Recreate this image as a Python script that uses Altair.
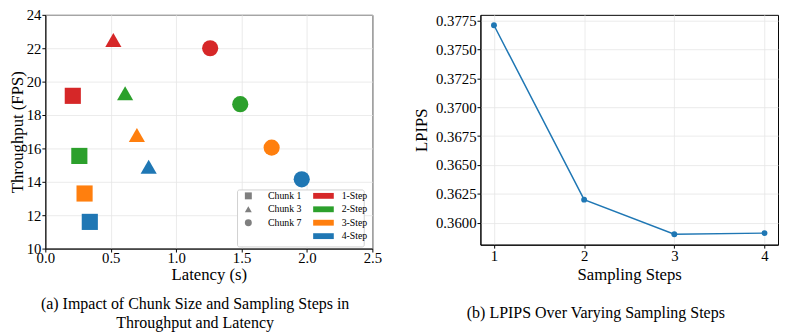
import altair as alt
import pandas as pd

FONT = "Liberation Serif"

# ---- Panel (a) data ----
latency = [0.21, 0.26, 0.30, 0.34, 0.52, 0.61, 0.70, 0.79, 1.26, 1.49, 1.73, 1.96]
throughput = [19.15, 15.55, 13.3, 11.6, 22.5, 19.3, 16.8, 14.9, 22.0, 18.65, 16.05, 14.15]
chunk = ["Chunk 1", "Chunk 1", "Chunk 1", "Chunk 1",
         "Chunk 3", "Chunk 3", "Chunk 3", "Chunk 3",
         "Chunk 7", "Chunk 7", "Chunk 7", "Chunk 7"]
step = ["1-Step", "2-Step", "3-Step", "4-Step",
        "1-Step", "2-Step", "3-Step", "4-Step",
        "1-Step", "2-Step", "3-Step", "4-Step"]
chunk_names = ["Chunk 1", "Chunk 3", "Chunk 7"]
chunk_shapes = ["square", "triangle-up", "circle"]
step_names = ["1-Step", "2-Step", "3-Step", "4-Step"]
step_colors = ["#d62728", "#2ca02c", "#ff7f0e", "#1f77b4"]
x_ticks_a = [0.0, 0.5, 1.0, 1.5, 2.0, 2.5]
y_ticks_a = [10, 12, 14, 16, 18, 20, 22, 24]

# ---- Panel (b) data ----
sampling_steps = [1, 2, 3, 4]
lpips = [0.3771, 0.3620, 0.3590, 0.3591]
y_ticks_b = [0.3600, 0.3625, 0.3650, 0.3675, 0.3700, 0.3725, 0.3750, 0.3775]

df_a = pd.DataFrame({"latency": latency, "throughput": throughput,
                     "chunk": chunk, "step": step})
df_b = pd.DataFrame({"steps": sampling_steps, "lpips": lpips})

frame = alt.Chart(pd.DataFrame({"k": [0]})).mark_rect(
    fill="white", stroke="#d0d0d0", strokeWidth=1, cornerRadius=2
).encode(
    x=alt.value(195.7), x2=alt.value(324.7), y=alt.value(178.3), y2=alt.value(236.3)
)

scatter = alt.Chart(df_a).mark_point(filled=True, size=270, opacity=1).encode(
    x=alt.X("latency:Q",
            scale=alt.Scale(domain=[0, 2.5], nice=False, zero=False),
            axis=alt.Axis(values=x_ticks_a, format=".1f", title="Latency (s)",
                          labelPadding=-1, titlePadding=0.5)),
    y=alt.Y("throughput:Q",
            scale=alt.Scale(domain=[10, 24], nice=False, zero=False),
            axis=alt.Axis(values=y_ticks_a, format="d", title="Throughput (FPS)",
                          titlePadding=-0.5)),
    shape=alt.Shape("chunk:N",
                    scale=alt.Scale(domain=chunk_names, range=chunk_shapes),
                    legend=alt.Legend(orient="none", legendX=201.7, legendY=179.3,
                                      title=None, padding=0,
                                      symbolSize=50, symbolFillColor="#7f7f7f",
                                      symbolStrokeColor="#7f7f7f",
                                      symbolStrokeWidth=0,
                                      labelFont=FONT, labelFontSize=10,
                                      labelColor="#000000",
                                      rowPadding=3.67, labelOffset=15)),
    color=alt.Color("step:N",
                    scale=alt.Scale(domain=step_names, range=step_colors),
                    legend=alt.Legend(orient="none", legendX=278.2, legendY=179.3,
                                      title=None, padding=0,
                                      symbolType="M-3,-0.85H3V0.85H-3Z",
                                      symbolSize=49, symbolStrokeWidth=0,
                                      labelFont=FONT, labelFontSize=10,
                                      labelColor="#000000",
                                      rowPadding=3.67, labelOffset=13.5)),
)

left = alt.layer(frame, scatter).properties(
    width=333, height=238,
    title=alt.TitleParams(
        text=["(a) Impact of Chunk Size and Sampling Steps in",
              "Throughput and Latency"],
        orient="bottom", anchor="middle", font=FONT, fontSize=16.25,
        fontWeight="normal", color="#000000", lineHeight=20, offset=14, dx=-14),
)

right = alt.Chart(df_b).mark_line(
    color="#1f77b4", strokeWidth=1.5,
    point=alt.OverlayMarkDef(filled=True, size=36, color="#1f77b4")
).encode(
    x=alt.X("steps:Q",
            scale=alt.Scale(domain=[0.85, 4.15], nice=False, zero=False),
            axis=alt.Axis(values=sampling_steps, format="d", title="Sampling Steps",
                          labelPadding=1, titlePadding=3)),
    y=alt.Y("lpips:Q",
            scale=alt.Scale(domain=[0.3581, 0.3780], nice=False, zero=False),
            axis=alt.Axis(values=y_ticks_b, format=".4f", title="LPIPS",
                          titlePadding=5)),
).properties(
    width=303, height=234,
    title=alt.TitleParams(
        text="(b) LPIPS Over Varying Sampling Steps",
        orient="bottom", anchor="middle", font=FONT, fontSize=16.25,
        fontWeight="normal", color="#000000", offset=23, dx=-34),
)

chart = alt.hconcat(left, right, spacing=30).properties(
    padding={"left": 0, "top": -4, "right": 0, "bottom": 0}
).configure(
    font=FONT
).configure_view(
    stroke="#000000", strokeWidth=1
).configure_axis(
    labelFont=FONT, labelFontSize=15, labelColor="#000000",
    titleFont=FONT, titleFontSize=17, titleFontWeight="normal",
    titleColor="#000000", labelPadding=1,
    tickSize=3.5, tickColor="#000000", domainColor="#000000",
    gridColor="#e5e5e5", gridWidth=0.8, labelFlush=False
)

chart.save("out.html", embed_options={"renderer": "svg", "actions": False})
